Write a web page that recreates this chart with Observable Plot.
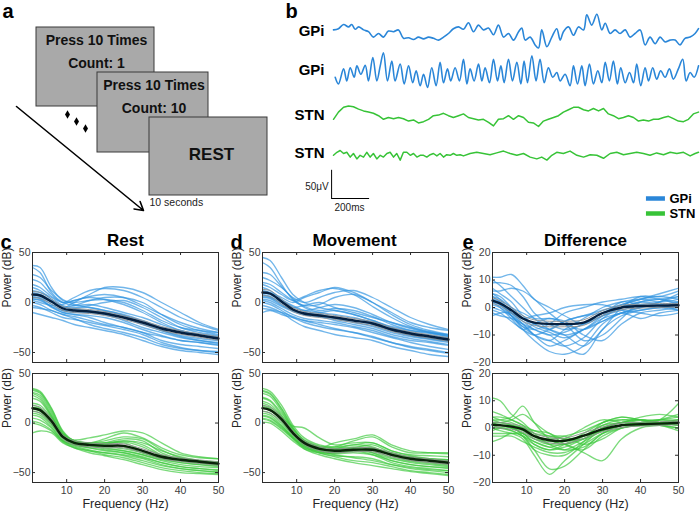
<!DOCTYPE html>
<html><head><meta charset="utf-8">
<script src="https://cdn.jsdelivr.net/npm/d3@7"></script>
<script src="https://cdn.jsdelivr.net/npm/@observablehq/plot@0.6"></script>
<style>
body{margin:0;background:#fff;}
#fig{position:relative;width:700px;height:515px;overflow:hidden;background:#fff;}
.p{position:absolute;}
.p svg{display:block;}
</style></head><body><div id="fig"></div>
<script>
// ---------- DATA ----------
const freqs = [1, 3, 6, 9, 12, 16, 20, 25, 30, 35, 40, 45, 50];
const powerTicks = [-50, 0, 50];
const diffTicks = [-20, -10, 0, 10, 20];
const freqTicks = [10, 20, 30, 40, 50];
const semPower = [3, 3, 2.5, 2, 2, 2, 2, 2, 2, 2, 1.8, 1.8, 1.8];
const semDiff = [1, 1, 1, 1, 1, 1, 1, 1, 0.9, 0.8, 0.7, 0.7, 0.7];

const restGPi = [
  [37,35,15,2,0,2,3,0,-8,-18,-25,-28,-30],
  [35,30,10,0,-3,-2,-5,-10,-15,-22,-28,-32,-34],
  [23,20,8,0,5,12,14,12,5,-5,-15,-22,-28],
  [10,8,2,-5,0,8,15,15,10,0,-10,-20,-27],
  [12,10,5,-3,-5,-3,0,2,-5,-15,-25,-30,-33],
  [8,7,0,-5,-3,2,5,5,0,-12,-22,-28,-32],
  [5,5,-2,-8,-10,-10,-12,-18,-25,-30,-35,-38,-40],
  [3,3,-5,-10,-12,-13,-15,-20,-27,-33,-38,-40,-42],
  [0,-2,-8,-12,-14,-18,-22,-25,-30,-38,-42,-44,-46],
  [-3,-5,-10,-15,-17,-20,-23,-27,-32,-40,-45,-48,-50],
  [-10,-12,-15,-18,-22,-25,-28,-32,-38,-44,-48,-50,-52],
  [2,0,-3,-2,2,5,3,-2,-10,-20,-28,-33,-36],
  [6,4,-4,-10,-12,-15,-20,-25,-30,-34,-38,-40,-43],
  [15,12,3,-4,-7,-8,-10,-15,-22,-28,-33,-36,-38],
  [28,25,12,3,-2,-5,-8,-12,-18,-25,-30,-33,-35],
  [-5,-6,-8,-12,-16,-22,-26,-30,-35,-42,-46,-48,-49],
  [18,15,6,0,2,6,8,5,-3,-12,-20,-26,-30],
  [4,2,-4,-8,-6,-5,-8,-13,-20,-28,-34,-38,-41]
];
const restGPiMean = [8, 7, 1, -6, -8, -9, -11, -15, -20, -26, -30, -33, -36];

const restSTN = [
  [35,32,15,-8,-18,-20,-20,-20,-28,-35,-38,-40,-42],
  [33,30,12,-10,-18,-20,-16,-10,-15,-25,-32,-35,-36],
  [31,28,10,-12,-20,-22,-22,-24,-30,-36,-40,-42,-43],
  [30,26,8,-12,-17,-15,-12,-8,-10,-20,-30,-34,-36],
  [20,18,5,-12,-18,-20,-20,-18,-20,-28,-34,-38,-40],
  [14,12,0,-15,-20,-22,-25,-28,-32,-37,-40,-42,-44],
  [10,8,-2,-15,-22,-25,-27,-30,-35,-40,-44,-46,-47],
  [8,6,-4,-17,-23,-27,-30,-33,-38,-43,-46,-48,-50],
  [5,3,-5,-18,-24,-28,-32,-35,-40,-45,-48,-50,-51],
  [2,0,-7,-18,-22,-24,-22,-18,-22,-32,-38,-40,-41],
  [-10,-8,-10,-20,-25,-30,-33,-37,-42,-47,-50,-51,-52],
  [18,15,3,-13,-20,-22,-20,-16,-18,-30,-36,-38,-39],
  [12,10,-1,-15,-20,-22,-24,-26,-30,-35,-38,-40,-42],
  [25,22,6,-12,-19,-23,-26,-28,-32,-38,-42,-44,-45],
  [34,31,14,-9,-19,-21,-21,-19,-24,-33,-37,-39,-41],
  [16,14,1,-14,-21,-25,-28,-30,-34,-40,-44,-46,-48],
  [28,24,7,-11,-18,-20,-18,-14,-16,-27,-35,-38,-40],
  [0,-2,-8,-19,-25,-28,-30,-32,-36,-42,-46,-48,-49]
];
const restSTNMean = [15, 13, 2, -14, -20, -22, -23, -23, -28, -34, -37, -39, -41];

const moveGPi = [
  [45,42,25,8,0,-5,-8,-12,-18,-24,-28,-30,-32],
  [40,35,18,3,-5,-10,-12,-15,-20,-26,-30,-33,-35],
  [25,22,15,5,0,5,10,12,5,-5,-15,-22,-27],
  [20,18,10,2,-3,-2,5,8,0,-10,-20,-25,-28],
  [12,10,5,0,5,10,15,10,0,-12,-22,-28,-32],
  [8,6,0,-5,-3,0,-5,-10,-15,-20,-25,-30,-33],
  [5,4,-3,-8,-12,-14,-16,-20,-24,-30,-34,-37,-40],
  [2,0,-6,-12,-16,-18,-20,-24,-28,-34,-38,-40,-43],
  [0,-2,-8,-15,-20,-24,-27,-30,-34,-40,-44,-47,-50],
  [-3,-5,-10,-18,-24,-28,-32,-35,-38,-44,-48,-52,-54],
  [-10,-8,-12,-15,-18,-20,-22,-25,-30,-35,-40,-44,-47],
  [15,12,3,-3,-8,-10,-8,-12,-18,-25,-32,-36,-39],
  [6,5,-2,-8,-10,-12,-15,-18,-22,-28,-33,-36,-38],
  [10,8,2,-4,-8,-5,-2,-5,-12,-20,-26,-30,-34],
  [30,28,16,4,-4,-8,-6,-8,-14,-22,-28,-31,-34],
  [-6,-7,-10,-14,-18,-22,-26,-30,-35,-40,-45,-48,-51],
  [18,15,8,2,6,12,14,8,-4,-15,-24,-29,-33],
  [3,2,-4,-9,-12,-14,-18,-22,-26,-32,-36,-39,-42]
];
const moveGPiMean = [10, 9, 1, -7, -11, -13, -15, -18, -21, -27, -31, -34, -37];

const moveSTN = [
  [35,32,18,-2,-15,-22,-24,-22,-20,-28,-32,-33,-34],
  [33,30,15,-4,-18,-24,-26,-25,-26,-30,-35,-36,-37],
  [30,27,12,-6,-18,-24,-24,-18,-14,-24,-30,-30,-30],
  [25,22,8,-8,-20,-26,-28,-28,-30,-36,-40,-42,-44],
  [20,17,6,-3,-5,-15,-22,-20,-20,-28,-33,-36,-38],
  [15,13,3,-10,-20,-25,-20,-16,-12,-22,-28,-30,-31],
  [12,10,0,-12,-22,-28,-32,-35,-38,-42,-45,-47,-48],
  [10,8,-2,-14,-24,-30,-34,-38,-40,-44,-48,-50,-52],
  [7,5,-4,-15,-25,-28,-28,-25,-30,-38,-42,-44,-45],
  [4,2,-6,-16,-26,-32,-36,-40,-43,-46,-49,-51,-53],
  [1,0,-8,-18,-26,-30,-30,-28,-32,-40,-44,-46,-48],
  [18,15,4,-10,-22,-27,-26,-22,-24,-32,-36,-38,-40],
  [22,19,7,-8,-19,-25,-27,-25,-22,-30,-34,-36,-37],
  [8,6,-3,-14,-23,-29,-31,-30,-32,-38,-42,-44,-46],
  [32,29,14,-5,-17,-23,-25,-24,-25,-32,-36,-38,-39],
  [17,14,2,-12,-22,-28,-30,-28,-26,-33,-38,-40,-42],
  [26,23,10,-6,-18,-25,-27,-26,-28,-35,-39,-41,-43],
  [5,3,-5,-15,-24,-30,-33,-34,-36,-42,-46,-48,-50]
];
const moveSTNMean = [15, 13, 4, -10, -20, -26, -28, -27, -27, -32, -36, -38, -40];

const diffGPi = [
  [11,11,12,8,3,0,-3,-6,-3,0,2,3,4],
  [10,8,4,0,-4,-8,-10,-8,-4,-2,0,2,5],
  [6,6,7,6,3,-2,-6,-8,-5,-2,-1,0,1],
  [5,3,-2,-6,-10,-12,-8,-4,0,2,3,2,3],
  [4,2,-3,-8,-12,-16,-17,-14,-6,-2,0,1,2],
  [3,2,-2,-5,-8,-10,-14,-17,-8,-3,-1,0,0],
  [2,0,-4,-8,-6,-4,-6,-12,-10,-4,2,3,1],
  [1,0,-3,-6,-10,-14,-12,-8,-5,-2,-4,-2,-1],
  [0,-1,-3,-7,-8,-6,-2,0,2,3,4,3,2],
  [-1,-2,-5,-8,-10,-8,-5,-3,-2,0,2,1,-1],
  [-3,-2,-2,-4,-6,-8,-10,-14,-8,0,4,4,6],
  [2,1,-2,-4,-3,-2,0,1,1,-1,-2,-3,-2],
  [7,5,2,-3,-6,-8,-5,-3,-1,1,3,5,7],
  [4,3,0,-2,-4,-4,-5,-10,-12,-6,-2,-1,0],
  [9,9,8,4,-2,-6,-8,-6,-2,1,3,4,3],
  [3,1,-3,-7,-10,-12,-14,-11,-4,0,1,0,-1],
  [-2,-3,-4,-6,-8,-10,-9,-6,-3,-1,1,2,4],
  [5,4,0,-4,-7,-9,-11,-8,-3,2,1,0,2]
];
const diffGPiMean = [2.5, 1.5, -1, -4, -5.5, -6, -6, -5.5, -2, 0, 0.5, 0.7, 0.8];

const diffSTN = [
  [11,10,5,2,-2,-6,-8,-7,-2,1,2,3,4],
  [3,3,4,8,2,-4,-6,-3,1,3,2,3,9],
  [-5,-4,-2,-3,-8,-15,-14,-8,-2,1,2,2,1],
  [2,2,1,-3,-8,-10,-10,-5,2,3,3,2,2],
  [1,1,0,-2,-5,-7,-6,-9,-12,-4,0,1,2],
  [4,3,2,0,-3,-4,-3,-1,2,4,3,3,3],
  [0,0,0,-1,-4,-6,-4,0,3,2,1,1,0],
  [-2,-2,-2,-2,-6,-8,-7,-4,0,2,3,2,1],
  [2,2,3,5,2,-2,-4,-4,-1,1,1,2,3],
  [0,-1,-2,-4,-10,-17,-12,-6,0,2,3,2,2],
  [1,1,0,-2,-4,-5,-5,-3,1,2,4,5,4],
  [3,2,1,0,-2,-3,-3,-6,-4,0,1,1,-1],
  [-1,0,-1,-3,-5,-7,-8,-5,-1,1,2,2,3],
  [2,1,1,0,-1,-2,-6,-8,-3,0,1,1,2],
  [4,4,3,1,-3,-6,-6,-4,0,2,2,3,2],
  [-3,-3,-3,-5,-7,-9,-9,-6,-2,0,1,1,0],
  [6,5,3,1,-1,-3,-4,-3,-1,1,2,3,5],
  [1,0,-1,-3,-6,-8,-6,-2,2,4,3,2,1]
];
const diffSTNMean = [1.2, 1, 0.5, -0.5, -3, -4.5, -4.7, -2.8, -0.5, 1, 1.4, 1.6, 1.9];

// LFP traces: [time (ms), amplitude (µV)]
const gpiTrace1 = [[0,6],[26,8],[53,15],[79,11],[96,15],[114,7],[132,11],[158,6],[184,3],[210,-6],[237,0],[263,-6],[289,4],[316,3],[342,6],[368,-8],[395,-7],[421,-10],[447,-6],[474,-9],[500,-6],[526,-8],[553,-11],[579,-6],[605,0],[631,8],[658,11],[684,7],[710,18],[737,3],[763,14],[789,6],[816,9],[842,-2],[868,14],[895,-6],[921,0],[947,-11],[974,3],[991,9],[1009,-11],[1035,-6],[1061,-19],[1079,-24],[1096,6],[1123,-22],[1149,-6],[1175,8],[1193,-11],[1210,3],[1237,11],[1263,-3],[1289,11],[1316,6],[1333,31],[1359,14],[1386,32],[1412,6],[1430,17],[1456,0],[1482,6],[1508,0],[1535,6],[1561,-6],[1587,0],[1614,6],[1640,-19],[1666,-6],[1693,-17],[1719,-6],[1745,-14],[1772,-11],[1798,-11],[1824,-19],[1850,-8],[1877,-6],[1903,0],[1921,8]];
const gpiTrace2 = [[9,-8],[26,-19],[53,6],[70,-14],[88,8],[109,-8],[123,11],[144,-3],[167,12],[184,-14],[207,25],[228,-14],[246,11],[263,33],[284,-14],[307,19],[324,-14],[351,14],[372,-19],[395,11],[417,-17],[435,3],[456,-22],[474,-3],[495,-25],[517,8],[540,-22],[561,17],[579,-17],[600,6],[617,-14],[640,8],[663,-14],[684,22],[702,-19],[719,6],[740,-14],[763,14],[781,-14],[798,8],[821,-17],[842,22],[863,-14],[881,11],[898,-17],[921,22],[942,-14],[965,17],[986,-19],[1003,19],[1021,-17],[1044,28],[1066,-14],[1087,22],[1109,-17],[1131,8],[1154,-8],[1175,0],[1193,-14],[1219,-3],[1245,-22],[1263,11],[1284,-19],[1307,11],[1324,-22],[1347,14],[1368,-19],[1391,3],[1412,-17],[1430,17],[1452,-14],[1473,19],[1494,-19],[1512,8],[1535,-17],[1558,0],[1579,-17],[1596,14],[1617,-22],[1640,8],[1658,-14],[1680,8],[1701,-11],[1722,3],[1745,-8],[1768,6],[1789,-11],[1815,6],[1838,22],[1856,-14],[1877,0],[1898,-8],[1921,11]];
const stnTrace1 = [[0,-3],[26,9],[53,17],[79,19],[105,18],[132,14],[158,11],[184,9],[210,7],[237,3],[263,-3],[289,0],[316,-2],[342,0],[368,-2],[395,-6],[421,-4],[447,-9],[474,-7],[500,-3],[526,3],[553,4],[579,7],[605,3],[631,0],[658,3],[684,6],[710,0],[737,-2],[763,-4],[789,-3],[816,-8],[842,-14],[868,-3],[895,-2],[921,3],[947,-3],[974,3],[1000,0],[1026,-8],[1052,-9],[1079,-15],[1105,-6],[1131,-3],[1158,0],[1184,3],[1210,9],[1237,13],[1263,17],[1289,17],[1316,13],[1342,11],[1368,15],[1395,11],[1421,15],[1447,6],[1473,3],[1500,-2],[1526,0],[1552,3],[1579,0],[1605,-6],[1631,-4],[1658,-6],[1684,-3],[1710,-3],[1737,0],[1763,2],[1789,-2],[1815,-6],[1842,-7],[1868,-3],[1894,6],[1921,9]];
const stnTrace2 = [[0,-1],[18,4],[35,7],[53,2],[70,4],[88,-4],[105,2],[123,-7],[140,-1],[158,-4],[175,4],[193,-4],[210,2],[228,-7],[246,-1],[263,-4],[281,2],[298,4],[316,-4],[333,2],[351,-9],[368,4],[386,4],[404,-1],[421,2],[439,-4],[456,-1],[474,-1],[491,-4],[509,0],[526,2],[544,-2],[561,2],[579,-4],[596,0],[614,-1],[631,2],[649,-1],[667,0],[684,-2],[719,2],[754,4],[789,2],[824,0],[859,3],[895,6],[930,2],[965,-1],[1000,2],[1035,-4],[1070,-7],[1096,-4],[1123,-9],[1149,-1],[1175,4],[1210,2],[1245,6],[1281,-1],[1316,-4],[1351,0],[1386,-1],[1421,-6],[1456,2],[1491,4],[1526,0],[1561,2],[1596,4],[1631,2],[1666,-1],[1701,3],[1737,0],[1772,4],[1807,2],[1842,4],[1877,-2],[1903,2],[1921,4]];
const traceNames = ["GPi", "GPi", "STN", "STN"];
const legendNames = ["GPi", "STN"];

// Task screens (panel a)
const screenLine1 = ["Press 10 Times", "Press 10 Times", ""];
const screenLine2 = ["Count: 1", "Count: 10", "REST"];
const panelTitles = ["Rest", "Movement", "Difference"];
const panelLetters = ["a", "b", "c", "d", "e"];

// ---------- STYLE / LAYOUT ----------
const FONT = '"Liberation Sans", Arial, Helvetica, sans-serif';
const BLUE = "#2a86d8", GREEN = "#37c337";
const BLUE_L = "#2f93e0", GREEN_L = "#3cc83c";
const NAVY = "#06203f", DKGREEN = "#0a220a";
const fig = document.getElementById("fig");
function place(el, left, top) {
  const d = document.createElement("div");
  d.className = "p"; d.style.left = left + "px"; d.style.top = top + "px";
  d.appendChild(el); fig.appendChild(d);
}
const baseStyle = {fontFamily: FONT, background: "transparent", overflow: "visible"};

// ---------- Base layer: panel a schematic + letters + titles ----------
const screens = screenLine1.map((l1, i) => ({
  l1, l2: screenLine2[i],
  x1: [36, 97, 149][i], y1: [27, 72, 117][i],
  x2: [154, 208, 267][i], y2: [106, 152, 195][i]
}));
const letterPos = [[2, 17], [285, 17], [0, 248], [230, 248], [462, 248]];
const titlePos = [[125, 245], [354, 245], [585, 245]];
const dotsPos = [[67, 114], [76, 121], [85, 128]];

const base = Plot.plot({
  width: 700, height: 515, margin: 0,
  x: {domain: [0, 700], range: [0, 700], axis: null},
  y: {domain: [0, 515], range: [0, 515], axis: null},
  style: baseStyle,
  marks: [
    Plot.rect(screens, {x1: "x1", x2: "x2", y1: "y1", y2: "y2", fill: "#a9a9a9", stroke: "#3a3a3a", strokeWidth: 1}),
    Plot.text(screens, {x: d => (d.x1 + d.x2) / 2 + 1, y: d => d.y1 + 17.5, text: "l1", fontWeight: "bold", fontSize: 14, lineAnchor: "bottom", fill: "#111"}),
    Plot.text(screens.slice(0, 2), {x: d => (d.x1 + d.x2) / 2 + 1, y: d => d.y1 + 40, text: "l2", fontWeight: "bold", fontSize: 14, lineAnchor: "bottom", fill: "#111"}),
    Plot.text(screens.slice(2), {x: d => (d.x1 + d.x2) / 2 + 3, y: d => d.y1 + 42, text: "l2", fontWeight: "bold", fontSize: 17, lineAnchor: "bottom", fill: "#111"}),
    Plot.dot(dotsPos, {x: d => d[0], y: d => d[1], symbol: "diamond", r: 2.6, fill: "#000"}),
    Plot.arrow([[16, 106, 143, 210]], {x1: d => d[0], y1: d => d[1], x2: d => d[2], y2: d => d[3], stroke: "#000", strokeWidth: 1.6, headLength: 9}),
    Plot.text(["10 seconds"], {x: 149, y: 205, text: d => d, textAnchor: "start", lineAnchor: "bottom", fontSize: 10.5, fill: "#222"}),
    Plot.text(panelLetters, {x: (d, i) => letterPos[i][0], y: (d, i) => letterPos[i][1], text: d => d, textAnchor: "start", lineAnchor: "bottom", fontWeight: "bold", fontSize: 20, fill: "#000"}),
    Plot.text(panelTitles, {x: (d, i) => titlePos[i][0], y: (d, i) => titlePos[i][1], text: d => d, lineAnchor: "bottom", fontWeight: "bold", fontSize: 17, fill: "#000"})
  ]
});
place(base, 0, 0);

// ---------- Panel b: traces ----------
const traceSets = [gpiTrace1, gpiTrace2, stnTrace1, stnTrace2];
const traceColors = [BLUE, BLUE, GREEN, GREEN];
const traceOffset = [-55, -120, -195, -257];
const rowsOf = i => traceSets[i].map(([ms, uv]) => ({ms, v: uv + traceOffset[i], id: i}));
const gpiRows = [0, 1].flatMap(rowsOf);
const stnRows = [2, 3].flatMap(rowsOf);
const panelB = Plot.plot({
  width: 410, height: 225, marginLeft: 43, marginRight: 2, marginTop: 0, marginBottom: 0,
  x: {domain: [0, 1921], axis: null},
  y: {domain: [-375, 0], axis: null},
  style: baseStyle,
  marks: [
    Plot.line(gpiRows, {x: "ms", y: "v", z: "id", stroke: BLUE, strokeWidth: 1.6, curve: "catmull-rom"}),
    Plot.line(stnRows, {x: "ms", y: "v", z: "id", stroke: GREEN, strokeWidth: 1.5, curve: "linear", strokeLinejoin: "round"}),
    Plot.text(traceNames, {x: 0, y: (d, i) => traceOffset[i], text: d => d, dx: -9, dy: -2, textAnchor: "end", fontWeight: "bold", fontSize: 15, fill: "#000"}),
    Plot.ruleX([-10], {y1: -283, y2: -330, stroke: "#000", strokeWidth: 1}),
    Plot.ruleY([-330], {x1: -10, x2: 190, stroke: "#000", strokeWidth: 1}),
    Plot.text(["50μV"], {x: -87, y: -310, text: d => d, fontSize: 10, fill: "#222"}),
    Plot.text(["200ms"], {x: 84, y: -346, text: d => d, fontSize: 10, fill: "#222"}),
    Plot.ruleY(legendNames, {y: (d, i) => [-330, -355][i], x1: 1647, x2: 1747, stroke: (d, i) => [BLUE, GREEN][i], strokeWidth: 4.5}),
    Plot.text(legendNames, {x: 1768, y: (d, i) => [-330, -355][i], text: d => d, textAnchor: "start", fontWeight: "bold", fontSize: 13, fill: "#000"})
  ],
  color: {type: "identity"}
});
place(panelB, 290, 0);

// ---------- Spectra ----------
const FW = 186;
function spectrum(lines, mean, sem, o) {
  const rows = lines.flatMap((l, i) => l.map((v, j) => ({f: freqs[j], v, id: i})));
  const m = mean.map((v, j) => ({f: freqs[j], v, lo: v - sem[j], hi: v + sem[j]}));
  const FH = o.frameH;
  const height = o.mt + FH + o.mb;
  return Plot.plot({
    width: 32 + FW + 12, height,
    marginLeft: 32, marginRight: 12, marginTop: o.mt, marginBottom: o.mb,
    x: {domain: [1, 50], axis: null},
    y: {domain: o.yDomain, axis: null},
    style: {...baseStyle, fontSize: "10px", color: "#404040"},
    marks: [
      Plot.line(rows, {x: "f", y: "v", z: "id", stroke: o.color, strokeOpacity: 0.68, strokeWidth: 1.35, curve: "catmull-rom", clip: true}),
      Plot.line(m, {x: "f", y: "lo", stroke: "#8c8c8c", strokeWidth: 0.9, curve: "catmull-rom"}),
      Plot.line(m, {x: "f", y: "hi", stroke: "#8c8c8c", strokeWidth: 0.9, curve: "catmull-rom"}),
      Plot.line(m, {x: "f", y: "v", stroke: o.meanColor, strokeWidth: 2.4, curve: "catmull-rom"}),
      Plot.frame({stroke: "#2b2b2b", strokeWidth: 1}),
      Plot.tickX(freqTicks, {x: d => d, insetTop: FH - 3, stroke: "#2b2b2b"}),
      Plot.tickX(freqTicks, {x: d => d, insetBottom: FH - 3, stroke: "#2b2b2b"}),
      Plot.tickY(o.yTicks, {y: d => d, insetRight: FW - 3, stroke: "#2b2b2b"}),
      Plot.tickY(o.yTicks, {y: d => d, insetLeft: FW - 3, stroke: "#2b2b2b"}),
      Plot.axisY({ticks: o.yTicks, tickSize: 0, tickPadding: 2, label: null, fontSize: 10.5}),
      o.showX ? Plot.axisX({ticks: freqTicks, tickSize: 0, tickPadding: 4, label: null, fontSize: 10.5}) : null,
      Plot.text(["Power (dB)"], {frameAnchor: "left", rotate: -90, dx: -25, text: d => d, fontSize: 12, fill: "#262626"}),
      o.showX ? Plot.text(["Frequency (Hz)"], {frameAnchor: "bottom", dy: 25, text: d => d, fontSize: 12.5, fill: "#262626"}) : null
    ]
  });
}
const topOpt = {frameH: 110, mt: 7, mb: 3, showX: false};
const botOpt = {frameH: 109, mt: 7, mb: 33, showX: true};
const powOpt = {yDomain: [-60, 50], yTicks: powerTicks};
const difOpt = {yDomain: [-20, 20], yTicks: diffTicks};
const gpiOpt = {color: BLUE_L, meanColor: NAVY};
const stnOpt = {color: GREEN_L, meanColor: DKGREEN};

place(spectrum(restGPi, restGPiMean, semPower, {...topOpt, ...powOpt, ...gpiOpt}), 0, 245);
place(spectrum(restSTN, restSTNMean, semPower, {...botOpt, ...powOpt, ...stnOpt}), 0, 366);
place(spectrum(moveGPi, moveGPiMean, semPower, {...topOpt, ...powOpt, ...gpiOpt}), 230, 245);
place(spectrum(moveSTN, moveSTNMean, semPower, {...botOpt, ...powOpt, ...stnOpt}), 230, 366);
place(spectrum(diffGPi, diffGPiMean, semDiff, {...topOpt, ...difOpt, ...gpiOpt}), 460, 245);
place(spectrum(diffSTN, diffSTNMean, semDiff, {...botOpt, ...difOpt, ...stnOpt}), 460, 366);
</script></body></html>
